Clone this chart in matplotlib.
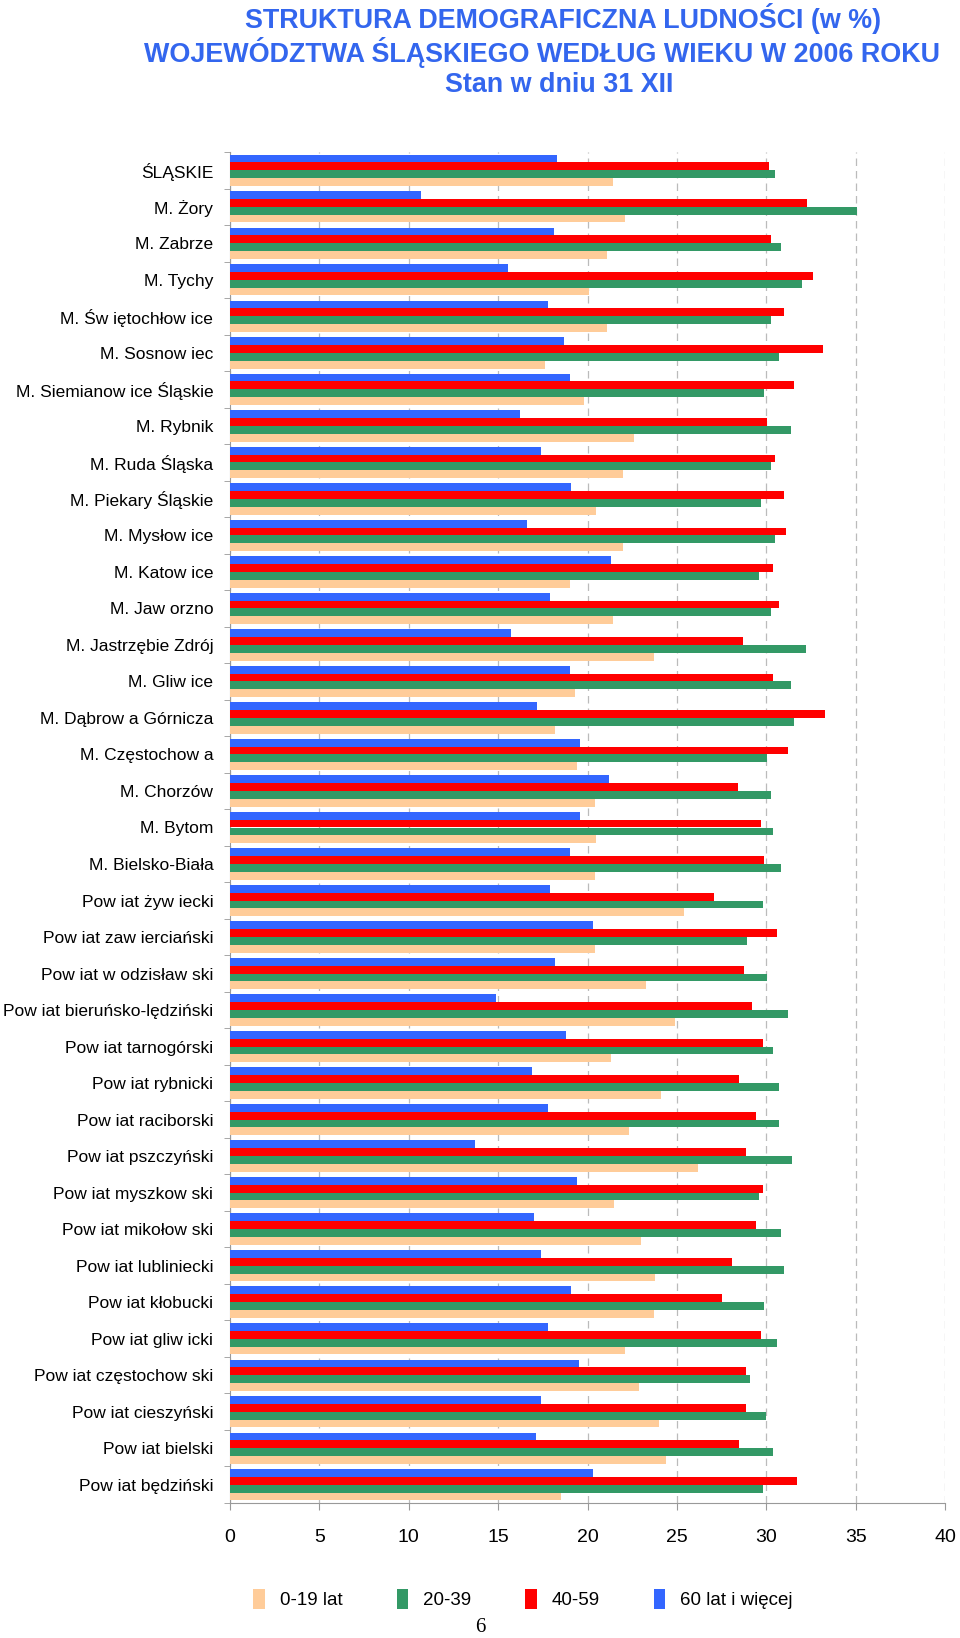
import matplotlib
matplotlib.use("Agg")
import matplotlib.pyplot as plt
from matplotlib import font_manager
import numpy as np

names = [f.name for f in font_manager.fontManager.ttflist]
FAM = "Liberation Sans Narrow" if "Liberation Sans Narrow" in names else "Liberation Sans"
plt.rcParams['font.family'] = [FAM, 'DejaVu Sans']

categories = [
    "ŚLĄSKIE", "M. Żory", "M. Zabrze", "M. Tychy", "M. Św iętochłow ice",
    "M. Sosnow iec", "M. Siemianow ice Śląskie", "M. Rybnik", "M. Ruda Śląska",
    "M. Piekary Śląskie", "M. Mysłow ice", "M. Katow ice", "M. Jaw orzno",
    "M. Jastrzębie Zdrój", "M. Gliw ice", "M. Dąbrow a Górnicza",
    "M. Częstochow a", "M. Chorzów", "M. Bytom", "M. Bielsko-Biała",
    "Pow iat żyw iecki", "Pow iat zaw ierciański", "Pow iat w odzisław ski",
    "Pow iat bieruńsko-lędziński", "Pow iat tarnogórski", "Pow iat rybnicki",
    "Pow iat raciborski", "Pow iat pszczyński", "Pow iat myszkow ski",
    "Pow iat mikołow ski", "Pow iat lubliniecki", "Pow iat kłobucki",
    "Pow iat gliw icki", "Pow iat częstochow ski", "Pow iat cieszyński",
    "Pow iat bielski", "Pow iat będziński",
]

age_0_19 = [21.4, 22.1, 21.1, 20.1, 21.1, 17.6, 19.8, 22.6, 22.0, 20.5, 22.0, 19.0,
            21.4, 23.7, 19.3, 18.2, 19.4, 20.4, 20.5, 20.4, 25.4, 20.4, 23.25, 24.9,
            21.3, 24.1, 22.3, 26.2, 21.5, 23.0, 23.8, 23.7, 22.1, 22.9, 24.0, 24.4, 18.5]
age_20_39 = [30.5, 35.1, 30.8, 32.0, 30.25, 30.7, 29.9, 31.4, 30.25, 29.7, 30.5, 29.6,
             30.25, 32.2, 31.4, 31.55, 30.05, 30.25, 30.4, 30.8, 29.8, 28.95, 30.05, 31.2,
             30.35, 30.7, 30.7, 31.45, 29.6, 30.8, 31.0, 29.9, 30.6, 29.1, 30.0, 30.35, 29.8]
age_40_59 = [30.15, 32.3, 30.25, 32.6, 31.0, 33.2, 31.55, 30.05, 30.5, 31.0, 31.1, 30.4,
             30.7, 28.7, 30.4, 33.3, 31.2, 28.4, 29.7, 29.9, 27.1, 30.6, 28.75, 29.2,
             29.8, 28.5, 29.4, 28.85, 29.8, 29.4, 28.1, 27.55, 29.7, 28.85, 28.85, 28.5, 31.7]
age_60_plus = [18.3, 10.7, 18.1, 15.55, 17.8, 18.7, 19.0, 16.2, 17.4, 19.1, 16.6, 21.3,
               17.9, 15.7, 19.0, 17.2, 19.6, 21.2, 19.6, 19.0, 17.9, 20.3, 18.2, 14.9,
               18.8, 16.9, 17.8, 13.7, 19.4, 17.0, 17.4, 19.1, 17.8, 19.5, 17.4, 17.1, 20.3]

series_labels = ["0-19 lat", "20-39", "40-59", "60 lat i więcej"]
colors = ["#FFCC99", "#339966", "#FF0000", "#3366FF"]
x_ticks = [0, 5, 10, 15, 20, 25, 30, 35, 40]

W, H = 960, 1638
fig = plt.figure(figsize=(W / 100, H / 100), dpi=100)
left, right, top, bottom = 230, 945, 152, 1503
ax = fig.add_axes([left / W, 1 - bottom / H, (right - left) / W, (bottom - top) / H])

n = len(categories)
y = np.arange(n)
bh = 0.215
# order within group from top: 60+, 40-59, 20-39, 0-19
offsets = [1.5 * bh, 0.5 * bh, -0.5 * bh, -1.5 * bh]
data = [age_0_19, age_20_39, age_40_59, age_60_plus]
for vals, off, col, lab in zip(data, offsets, colors, series_labels):
    ax.barh(y + off, vals, height=bh, color=col, label=lab, zorder=3)

ax.set_xlim(0, 40)
ax.set_ylim(n - 0.5, -0.5)
ax.set_yticks(y)
ax.set_yticklabels(categories, fontsize=12.5)
ax.set_yticks(np.arange(n + 1) - 0.5, minor=True)
ax.tick_params(axis='y', which='major', length=0, pad=12)
ax.tick_params(axis='y', which='minor', length=4, color='#999999', direction='out')
ax.set_xticks(x_ticks)
ax.set_xticklabels([str(t) for t in x_ticks], fontsize=14)
ax.tick_params(axis='x', length=5, color='#999999', pad=14)
ax.grid(axis='x', linestyle=(0, (6, 4)), color='#BBBBBB', linewidth=0.9, zorder=0)
for s in ['top', 'right']:
    ax.spines[s].set_visible(False)
ax.spines['left'].set_color('#999999')
ax.spines['bottom'].set_color('#999999')

title_color = "#3366EE"
fig.text(563 / W, 1 - 19 / H, "STRUKTURA DEMOGRAFICZNA LUDNOŚCI (w %)", ha='center', va='center',
         fontsize=19.4, fontweight='bold', color=title_color)
fig.text(542 / W, 1 - 52 / H, "WOJEWÓDZTWA ŚLĄSKIEGO WEDŁUG WIEKU W 2006 ROKU", ha='center', va='center',
         fontsize=19.4, fontweight='bold', color=title_color)
fig.text(559 / W, 1 - 85 / H, "Stan w dniu 31 XII", ha='center', va='center',
         fontsize=19.4, fontweight='bold', color=title_color)

handles, labels = ax.get_legend_handles_labels()
fig.legend(handles, labels, loc='center', bbox_to_anchor=(523 / W, 1 - 1599 / H), ncol=4,
           frameon=False, fontsize=13.5, handlelength=0.6, handleheight=1.3,
           columnspacing=2.9, handletextpad=0.8)

fig.text(480 / W, 1 - 1628 / H, "6", ha='center', va='center', fontsize=15,
         family=['Liberation Serif', 'DejaVu Serif'])

fig.savefig("out.png", dpi=100)
